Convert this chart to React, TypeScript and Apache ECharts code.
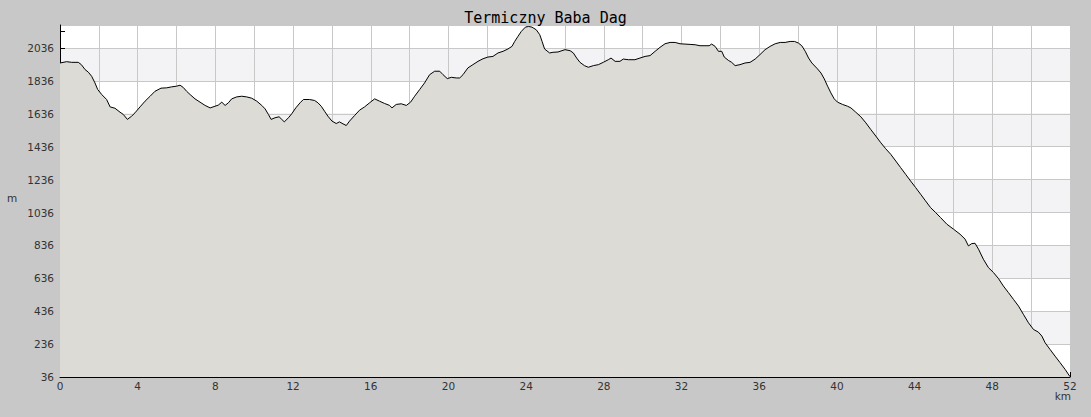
import React, { useEffect, useRef } from "react";
import * as echarts from "echarts";

const TITLE = "Termiczny Baba Dag";
const Y_NAME = "m";
const X_NAME = "km";

const distanceKm: number[] = [
  0, 0.34, 0.6, 0.94, 1.1, 1.29, 1.46, 1.63, 1.8, 1.94, 2.15, 2.4, 2.58, 2.83, 3.09, 3.26, 3.47, 3.69, 3.86, 4.12,
  4.38, 4.64, 4.89, 5.2, 5.49, 5.75, 6.0, 6.18, 6.35, 6.52, 6.7, 6.95, 7.21, 7.47, 7.73, 7.98, 8.15, 8.33, 8.5, 8.67,
  8.84, 9.1, 9.36, 9.61, 9.87, 10.13, 10.39, 10.56, 10.73, 10.87, 11.07, 11.28, 11.42, 11.55, 11.76, 11.93, 12.14,
  12.36, 12.53, 12.85, 13.11, 13.28, 13.45, 13.62, 13.79, 14.0, 14.22, 14.39, 14.57, 14.74, 14.91, 15.17, 15.42,
  15.68, 15.94, 16.2, 16.45, 16.71, 16.97, 17.09, 17.31, 17.57, 17.83, 18.05, 18.26, 18.52, 18.77, 19.03, 19.29,
  19.55, 19.72, 19.94, 20.15, 20.4, 20.58, 20.75, 21.0, 21.26, 21.52, 21.78, 22.03, 22.29, 22.55, 22.81, 23.06,
  23.27, 23.41, 23.58, 23.75, 23.96, 24.13, 24.3, 24.52, 24.7, 24.82, 24.95, 25.21, 25.38, 25.64, 26.0, 26.26,
  26.43, 26.6, 26.77, 27.0, 27.2, 27.46, 27.72, 27.97, 28.23, 28.37, 28.58, 28.83, 29.0, 29.26, 29.6, 29.86, 30.12,
  30.38, 30.64, 30.89, 31.15, 31.41, 31.67, 31.92, 32.18, 32.44, 32.7, 32.95, 33.21, 33.42, 33.55, 33.73, 33.9,
  34.07, 34.2, 34.41, 34.58, 34.76, 35.01, 35.27, 35.53, 35.79, 36.04, 36.3, 36.56, 36.82, 37.08, 37.33, 37.59,
  37.82, 38.02, 38.19, 38.37, 38.54, 38.71, 39.0, 39.18, 39.35, 39.52, 39.69, 39.86, 40.03, 40.29, 40.55, 40.72,
  40.97, 41.23, 41.49, 41.74, 42.0, 42.26, 42.51, 42.77, 43.03, 43.28, 43.54, 43.79, 44.05, 44.31, 44.56, 44.82,
  45.08, 45.33, 45.66, 46.0, 46.34, 46.6, 46.77, 46.94, 47.11, 47.29, 47.54, 47.8, 48.06, 48.32, 48.57, 48.83,
  49.09, 49.35, 49.6, 49.86, 50.12, 50.37, 50.55, 50.72, 50.97, 51.23, 51.49, 51.75, 52.0,
];

const elevationM: number[] = [
  1945, 1953, 1949, 1949, 1935, 1905, 1889, 1864, 1824, 1784, 1753, 1723, 1678, 1670, 1646, 1632, 1602, 1622, 1642, 1678,
  1713, 1743, 1773, 1792, 1794, 1800, 1804, 1810, 1796, 1773, 1753, 1727, 1707, 1687, 1672, 1682, 1689, 1707, 1687, 1703,
  1727, 1739, 1743, 1739, 1731, 1713, 1687, 1666, 1632, 1602, 1612, 1618, 1602, 1587, 1612, 1636, 1672,
  1703, 1723, 1723, 1717, 1703, 1682, 1652, 1622, 1592, 1577, 1587, 1575, 1565, 1592, 1626, 1658,
  1678, 1703, 1727, 1713, 1699, 1687, 1672, 1693, 1697, 1687, 1707, 1743, 1784, 1824, 1874, 1895,
  1895, 1874, 1850, 1858, 1854, 1854, 1874, 1915, 1935, 1955, 1971, 1981, 1985, 2006, 2016, 2030,
  2046, 2076, 2107, 2137, 2163, 2167, 2163, 2147, 2117, 2076, 2030, 2006, 2010, 2012, 2026, 2020,
  2006, 1975, 1949, 1929, 1919, 1929, 1935, 1949, 1965, 1975, 1955, 1955, 1969, 1965, 1965, 1975, 1985,
  1990, 2016, 2040, 2062, 2070, 2070, 2062, 2060, 2058, 2056, 2050, 2050, 2050, 2060, 2046, 2016,
  2016, 1981, 1961, 1949, 1929, 1935, 1945, 1949, 1969, 1996, 2026, 2046, 2062, 2070, 2070, 2076,
  2076, 2066, 2050, 2016, 1975, 1945, 1909, 1884, 1848, 1804, 1763, 1727, 1707, 1693, 1682, 1672,
  1646, 1618, 1581, 1541, 1501, 1460, 1424, 1390, 1349, 1309, 1268, 1228, 1188, 1147, 1107, 1066,
  1036, 1006, 965, 935, 904, 874, 833, 847, 849, 813, 752, 701, 671, 634, 589, 549,
  508, 467, 417, 366, 325, 309, 285, 244, 204, 163, 123, 82, 38,
];

// y tick marks every 100 m, labels every 200 m
const yTickValues: number[] = [
  36, 136, 236, 336, 436, 536, 636, 736, 836, 936, 1036, 1136, 1236, 1336, 1436, 1536, 1636, 1736, 1836, 1936,
  2036, 2136,
];

const X_MIN = 0;
const X_MAX = 52;
const X_STEP = 2;
const X_LABEL_STEP = 4;
const Y_MIN = 36;
const Y_MAX = 2176;
const Y_STEP = 200;

export default function App() {
  const ref = useRef<HTMLDivElement>(null);

  useEffect(() => {
    if (!ref.current) return;
    const chart = echarts.init(ref.current, null, { renderer: "svg" });
    const labelFont = {
      fontFamily: "DejaVu Sans",
      fontSize: 10.5,
      color: "#333333",
    };
    const plotWidth = 1091 - 60 - 21;
    chart.setOption({
      animation: false,
      backgroundColor: "#c8c8c8",
      title: {
        text: TITLE,
        left: "center",
        top: 5,
        textStyle: {
          fontFamily: "DejaVu Sans Mono",
          fontSize: 15,
          fontWeight: "normal",
          color: "#000000",
        },
      },
      grid: { left: 60, right: 21, top: 25, bottom: 40, containLabel: false },
      xAxis: {
        type: "value",
        min: X_MIN,
        max: X_MAX,
        interval: X_STEP,
        axisLine: { show: true, onZero: false, lineStyle: { color: "#000000", width: 1 } },
        axisTick: { show: true, inside: true, length: 5, lineStyle: { color: "#000000" } },
        minorTick: { show: true, splitNumber: 2, length: 3, lineStyle: { color: "#000000" } },
        axisLabel: {
          ...labelFont,
          margin: 3,
          formatter: (v: number) => (v % X_LABEL_STEP === 0 ? String(v) : ""),
        },
        splitLine: { show: true, lineStyle: { color: "#c8c8c8", width: 1 } },
      },
      yAxis: [
        {
          type: "value",
          min: Y_MIN,
          max: Y_MAX,
          interval: Y_STEP,
          axisLine: { show: true, onZero: false, lineStyle: { color: "#000000", width: 1 } },
          axisTick: { show: false },
          minorTick: { show: false },
          axisLabel: {
            ...labelFont,
            margin: 6,
            showMaxLabel: false,
            formatter: (v: number) => ((v - Y_MIN) % Y_STEP === 0 ? String(v) : ""),
          },
          splitLine: { show: true, lineStyle: { color: "#c8c8c8", width: 1 } },
          splitArea: { show: true, areaStyle: { color: ["#ffffff", "#f3f2f5"] } },
        },
        {
          type: "value",
          min: Y_MIN,
          max: Y_MAX,
          position: "right",
          offset: -plotWidth,
          axisLine: { show: false, onZero: false },
          axisTick: {
            show: true,
            inside: false,
            length: 5,
            customValues: yTickValues,
            lineStyle: { color: "#000000" },
          },
          axisLabel: { show: false },
          splitLine: { show: false },
          splitArea: { show: false },
        },
      ],
      graphic: [
        {
          type: "text",
          left: 7,
          top: 192,
          style: { text: Y_NAME, fill: "#333333", font: "10.5px 'DejaVu Sans'" },
        },
        {
          type: "text",
          right: 20,
          top: 390,
          style: { text: X_NAME, fill: "#333333", font: "10.5px 'DejaVu Sans'" },
        },
      ],
      series: [
        {
          type: "line",
          yAxisIndex: 0,
          data: distanceKm.map((d, i) => [d, elevationM[i]]),
          symbol: "none",
          smooth: false,
          lineStyle: { color: "#000000", width: 1 },
          areaStyle: { color: "#dcdbd6", opacity: 1 },
        },
      ],
    });
    return () => chart.dispose();
  }, []);

  return (
    <div
      ref={ref}
      style={{ position: "fixed", left: 0, top: 0, width: 1091, height: 417 }}
    />
  );
}
